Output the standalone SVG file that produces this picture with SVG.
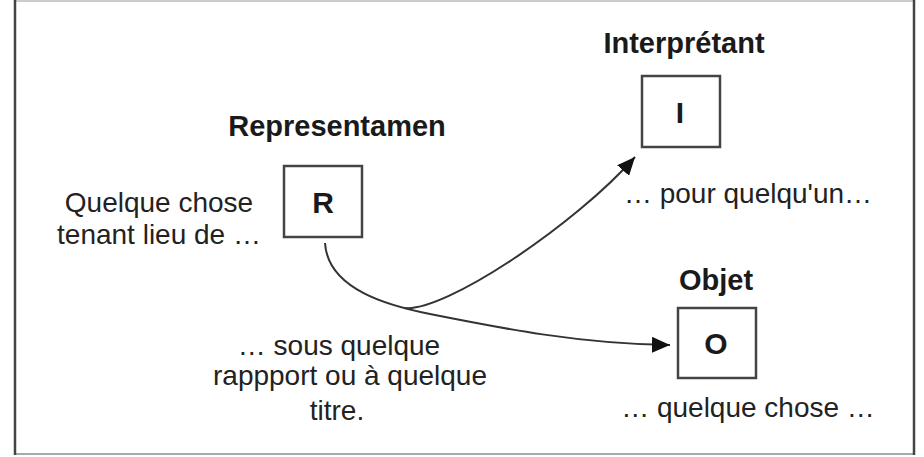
<svg xmlns="http://www.w3.org/2000/svg" width="924" height="457" viewBox="0 0 924 457">
<style>
.lbl{font-family:"Liberation Sans",Arial,sans-serif;font-size:29px;font-weight:bold;fill:#1a1a1a}
.big{font-family:"Liberation Sans",Arial,sans-serif;font-size:30px;font-weight:bold;fill:#1a1a1a}
.txt{font-family:"Liberation Sans",Arial,sans-serif;font-size:28px;fill:#222}
.box{fill:#fff;stroke:#444;stroke-width:2.5}
.conn{fill:none;stroke:#333;stroke-width:2}
</style>
<defs>
<marker id="arr" markerUnits="userSpaceOnUse" markerWidth="20" markerHeight="16" refX="18" refY="8" orient="auto">
<path d="M0,0 L18,8 L0,16 Z" fill="#111"/>
</marker>
</defs>
<rect x="0" y="0" width="924" height="457" fill="#fff"/>
<g id="frame">
<line x1="15" y1="1" x2="914" y2="1" stroke="#ccc" stroke-width="2"/>
<line x1="15" y1="454" x2="914" y2="454" stroke="#aaa" stroke-width="2"/>
<line x1="15" y1="0" x2="15" y2="455" stroke="#444" stroke-width="2.5"/>
<line x1="914" y1="0" x2="914" y2="455" stroke="#444" stroke-width="2.5"/>
</g>
<g id="connectors">
<path class="conn" d="M325,243 C328,290 390,306 430,314 C500,328 580,344 670,345" marker-end="url(#arr)"/>
<path class="conn" d="M405,308 C445,312 575,225 635,157" marker-end="url(#arr)"/>
</g>
<g id="representamen">
<text class="lbl" x="337" y="136" text-anchor="middle">Representamen</text>
<rect class="box" x="284" y="166" width="78" height="71"/>
<text class="big" x="323" y="213" text-anchor="middle">R</text>
</g>
<g id="interpretant">
<text class="lbl" x="684" y="53" text-anchor="middle">Interprétant</text>
<rect class="box" x="642" y="76" width="78" height="71"/>
<text class="big" x="680" y="123" text-anchor="middle">I</text>
</g>
<g id="objet">
<text class="lbl" x="716" y="290" text-anchor="middle">Objet</text>
<rect class="box" x="678" y="308" width="78" height="70"/>
<text class="big" x="716" y="354" text-anchor="middle">O</text>
</g>
<g id="texts">
<text class="txt" x="159" y="212" text-anchor="middle">Quelque chose</text>
<text class="txt" x="159" y="244" text-anchor="middle">tenant lieu de …</text>
<text class="txt" x="748" y="203" text-anchor="middle">… pour quelqu'un…</text>
<text class="txt" x="748" y="417" text-anchor="middle">… quelque chose …</text>
<text class="txt" x="339" y="355" text-anchor="middle">… sous quelque</text>
<text class="txt" x="350" y="385" text-anchor="middle">rappport ou à quelque</text>
<text class="txt" x="337" y="420" text-anchor="middle">titre.</text>
</g>
</svg>
